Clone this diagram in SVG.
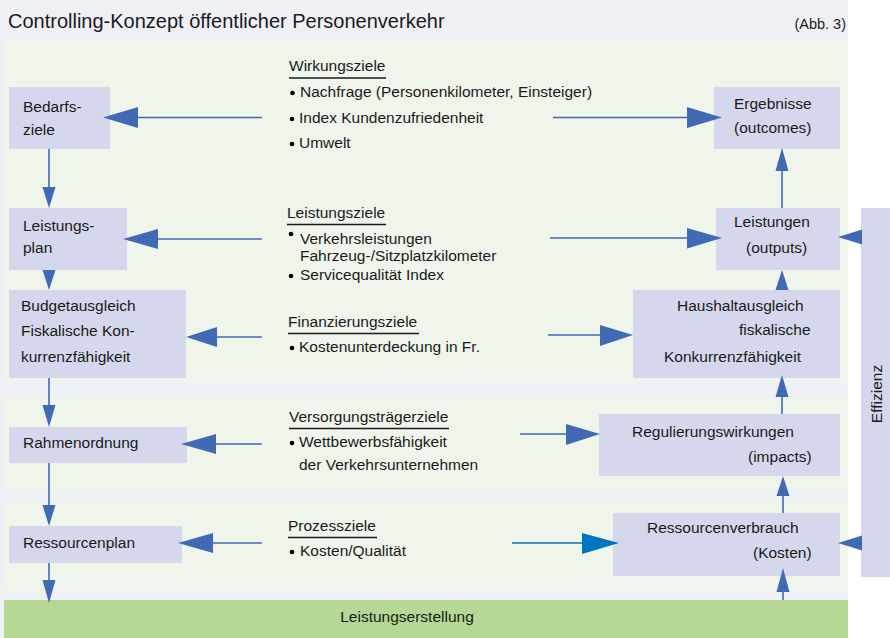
<svg xmlns="http://www.w3.org/2000/svg" width="890" height="638" viewBox="0 0 890 638">
  <style>
    text { font-family: "Liberation Sans", Arial, sans-serif; font-size: 15.5px; fill: #1a1a1a; }
    .title { font-size: 20px; }
    .abb { font-size: 14.5px; }
    .box { fill: #d5d8ec; }
    .panel { fill: #eff5ea; }
    .ln { stroke: #4169b4; stroke-width: 1.6; fill: none; }
    .hd { fill: #4169b4; }
    .ln2 { stroke: #0076c0; stroke-width: 1.6; fill: none; }
    .hd2 { fill: #0076c0; }
    .ul { stroke: #1a1a1a; stroke-width: 1.4; }
  </style>

  <!-- page background and bands -->
  <rect x="0" y="0" width="890" height="638" fill="#ffffff"/>
  <rect x="0" y="0" width="848" height="638" fill="#efeff6"/>
  <rect class="panel" x="4" y="39" width="844" height="343"/>
  <rect class="panel" x="4" y="397" width="844" height="94"/>
  <rect class="panel" x="4" y="501" width="844" height="89"/>
  <rect x="4" y="600" width="844" height="38" fill="#b7d795"/>

  <text class="title" x="8" y="28">Controlling-Konzept öffentlicher Personenverkehr</text>
  <text class="abb" x="846" y="29" text-anchor="end">(Abb. 3)</text>

  <!-- left column -->
  <g id="bedarfsziele">
    <rect class="box" x="9" y="87" width="101" height="62"/>
    <text x="23" y="112">Bedarfs-</text>
    <text x="23" y="135">ziele</text>
  </g>
  <g id="leistungsplan">
    <rect class="box" x="9" y="208" width="118" height="62"/>
    <text x="23" y="231">Leistungs-</text>
    <text x="23" y="253">plan</text>
  </g>
  <g id="budgetausgleich">
    <rect class="box" x="9" y="290" width="177" height="88"/>
    <text x="21" y="311">Budgetausgleich</text>
    <text x="21" y="336">Fiskalische Kon-</text>
    <text x="21" y="362">kurrenzfähigkeit</text>
  </g>
  <g id="rahmenordnung">
    <rect class="box" x="9" y="427" width="178" height="36"/>
    <text x="23" y="448">Rahmenordnung</text>
  </g>
  <g id="ressourcenplan">
    <rect class="box" x="9" y="526" width="173" height="37"/>
    <text x="23" y="548">Ressourcenplan</text>
  </g>

  <!-- right column -->
  <g id="ergebnisse">
    <rect class="box" x="714" y="87" width="126" height="62"/>
    <text x="734" y="109">Ergebnisse</text>
    <text x="734" y="133">(outcomes)</text>
  </g>
  <g id="leistungen">
    <rect class="box" x="716" y="208" width="124" height="62"/>
    <text x="734" y="227">Leistungen</text>
    <text x="746" y="253">(outputs)</text>
  </g>
  <g id="haushaltausgleich">
    <rect class="box" x="633" y="290" width="207" height="88"/>
    <text x="677" y="311">Haushaltausgleich</text>
    <text x="739" y="335">fiskalische</text>
    <text x="664" y="362">Konkurrenzfähigkeit</text>
  </g>
  <g id="regulierungswirkungen">
    <rect class="box" x="599" y="414" width="241" height="62"/>
    <text x="632" y="437">Regulierungswirkungen</text>
    <text x="748" y="462">(impacts)</text>
  </g>
  <g id="ressourcenverbrauch">
    <rect class="box" x="613" y="513" width="227" height="63"/>
    <text x="647" y="533">Ressourcenverbrauch</text>
    <text x="753" y="558">(Kosten)</text>
  </g>

  <g id="effizienz">
    <rect class="box" x="861" y="208" width="29" height="369"/>
    <text transform="translate(882 394) rotate(-90)" text-anchor="middle">Effizienz</text>
  </g>

  <g id="leistungserstellung">
    <text x="407" y="622" text-anchor="middle">Leistungserstellung</text>
  </g>

  <!-- goal groups -->
  <g id="wirkungsziele">
    <text x="289" y="71">Wirkungsziele</text>
    <line class="ul" x1="289" y1="78" x2="386" y2="78"/>
    <circle cx="292.5" cy="93" r="2.3"/>
    <text x="300" y="97">Nachfrage (Personenkilometer, Einsteiger)</text>
    <circle cx="292" cy="119" r="2.3"/>
    <text x="299" y="123">Index Kundenzufriedenheit</text>
    <circle cx="292" cy="144" r="2.3"/>
    <text x="299" y="148">Umwelt</text>
  </g>
  <g id="leistungsziele">
    <text x="287" y="218">Leistungsziele</text>
    <line class="ul" x1="287" y1="224.5" x2="386" y2="224.5"/>
    <circle cx="291" cy="234" r="2.3"/>
    <text x="300" y="244">Verkehrsleistungen</text>
    <text x="300" y="261">Fahrzeug-/Sitzplatzkilometer</text>
    <circle cx="291" cy="276" r="2.3"/>
    <text x="300" y="280">Servicequalität Index</text>
  </g>
  <g id="finanzierungsziele">
    <text x="288" y="327">Finanzierungsziele</text>
    <line class="ul" x1="288" y1="333.5" x2="419" y2="333.5"/>
    <circle cx="292" cy="348" r="2.3"/>
    <text x="299" y="352">Kostenunterdeckung in Fr.</text>
  </g>
  <g id="versorgungstraegerziele">
    <text x="289" y="422">Versorgungsträgerziele</text>
    <line class="ul" x1="289" y1="428.5" x2="449" y2="428.5"/>
    <circle cx="292" cy="443" r="2.3"/>
    <text x="299" y="447">Wettbewerbsfähigkeit</text>
    <text x="299" y="470">der Verkehrsunternehmen</text>
  </g>
  <g id="prozessziele">
    <text x="288" y="531">Prozessziele</text>
    <line class="ul" x1="288" y1="537.5" x2="377" y2="537.5"/>
    <circle cx="292" cy="552" r="2.3"/>
    <text x="300" y="556">Kosten/Qualität</text>
  </g>

  <!-- connectors -->
  <g id="connectors">
    <!-- left vertical chain -->
    <line class="ln" x1="49" y1="149" x2="49" y2="190"/>
    <polygon class="hd" points="42.5,187 55.5,187 49,208"/>
    <line class="ln" x1="49" y1="270" x2="49" y2="272"/>
    <polygon class="hd" points="42.5,270 55.5,270 49,290"/>
    <line class="ln" x1="49" y1="378" x2="49" y2="408"/>
    <polygon class="hd" points="42.5,405 55.5,405 49,427"/>
    <line class="ln" x1="49" y1="463" x2="49" y2="508"/>
    <polygon class="hd" points="42.5,505 55.5,505 49,526"/>
    <line class="ln" x1="49" y1="563" x2="49" y2="583"/>
    <polygon class="hd" points="42.5,580 55.5,580 49,603"/>

    <!-- goals to left column -->
    <line class="ln" x1="262" y1="117.5" x2="136" y2="117.5"/>
    <polygon class="hd" points="138,107 138,128 103,117.5"/>
    <line class="ln" x1="262" y1="239" x2="156" y2="239"/>
    <polygon class="hd" points="158,229 158,249 123,239"/>
    <line class="ln" x1="262" y1="337" x2="215" y2="337"/>
    <polygon class="hd" points="217,327 217,347 186,337"/>
    <line class="ln" x1="262" y1="444" x2="214" y2="444"/>
    <polygon class="hd" points="216,434 216,454 181,444"/>
    <line class="ln" x1="262" y1="543" x2="211" y2="543"/>
    <polygon class="hd" points="213,533 213,553 178,543"/>

    <!-- goals to right column -->
    <line class="ln" x1="553" y1="117.5" x2="689" y2="117.5"/>
    <polygon class="hd" points="687,107 687,128 722,117.5"/>
    <line class="ln" x1="550" y1="238" x2="689" y2="238"/>
    <polygon class="hd" points="687,228 687,248.5 722,238"/>
    <line class="ln" x1="548" y1="335" x2="602" y2="335"/>
    <polygon class="hd" points="600,325 600,346 633,335"/>
    <line class="ln" x1="520" y1="434" x2="568" y2="434"/>
    <polygon class="hd" points="566,424 566,445 600,434"/>
    <line class="ln2" x1="512" y1="543" x2="584" y2="543"/>
    <polygon class="hd2" points="582,533 582,554 619,543"/>

    <!-- right vertical chain -->
    <line class="ln" x1="782" y1="208" x2="782" y2="168"/>
    <polygon class="hd" points="775.5,171 788.5,171 782,148"/>
    <line class="ln" x1="782" y1="290" x2="782" y2="273"/>
    <polygon class="hd" points="775.5,290 788.5,290 782,270"/>
    <line class="ln" x1="782" y1="414" x2="782" y2="394"/>
    <polygon class="hd" points="775.5,397 788.5,397 782,375"/>
    <line class="ln" x1="783" y1="513" x2="783" y2="494"/>
    <polygon class="hd" points="776.5,496 789.5,496 783,476"/>
    <line class="ln" x1="783" y1="600" x2="783" y2="589"/>
    <polygon class="hd" points="776.5,592 789.5,592 783,568"/>

    <!-- efficiency to right column -->
    <polygon class="hd" points="862,229.5 862,244.5 838,237"/>
    <polygon class="hd" points="862,535.5 862,550.5 838,543"/>
  </g>
</svg>
